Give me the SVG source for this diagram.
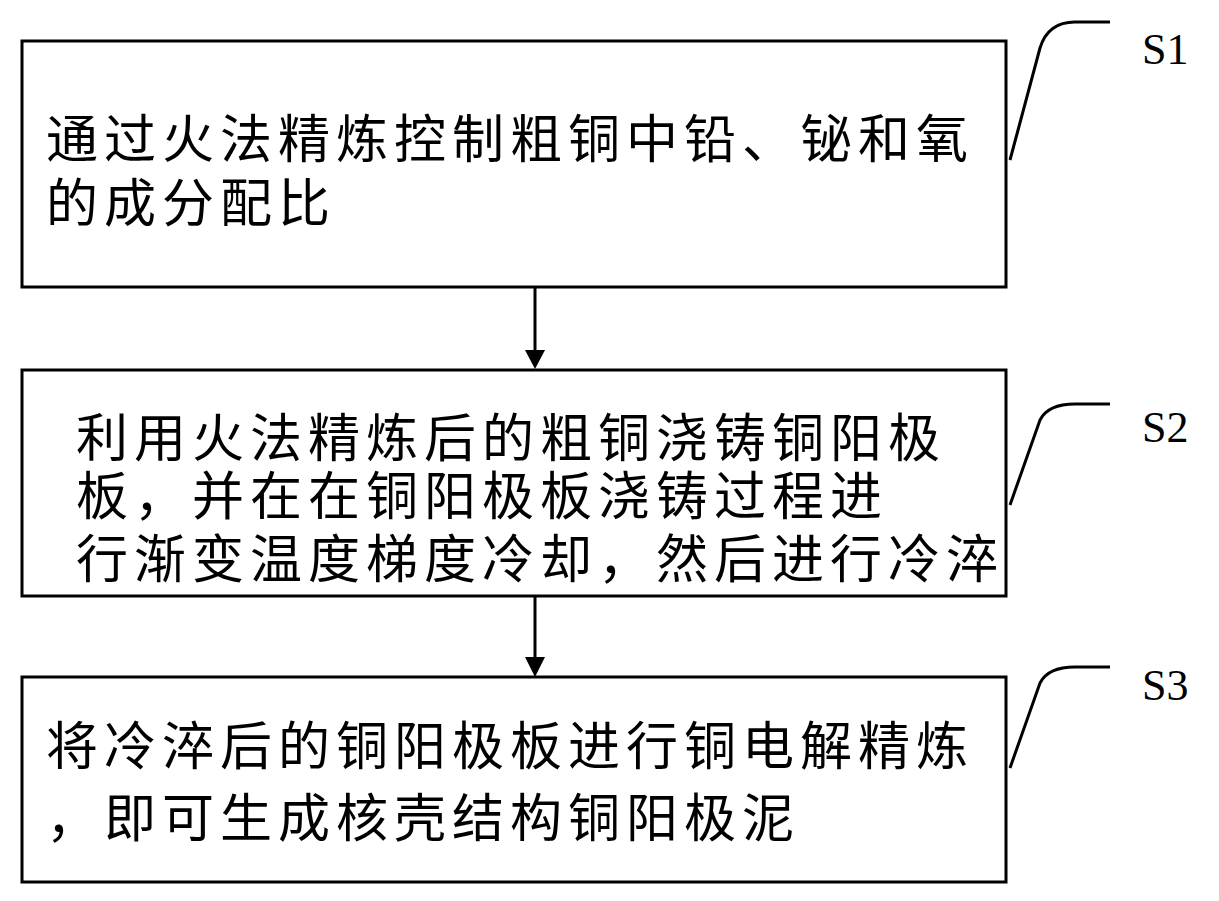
<svg xmlns="http://www.w3.org/2000/svg" width="1219" height="901" viewBox="0 0 1219 901">
<style>
.box{fill:#fff;stroke:#000;stroke-width:3}
.t{font-family:"Liberation Serif","Noto Sans CJK SC",serif;font-size:52px;letter-spacing:6px;fill:#000}
.lb{font-family:"Liberation Serif",serif;font-size:44px;fill:#000}
.c{fill:none;stroke:#000;stroke-width:3}
</style>
<rect width="1219" height="901" fill="#fff"/>
<g id="n1"><rect class="box" x="22" y="41" width="984" height="246"/>
<text class="t" x="46" y="158">通过火法精炼控制粗铜中铅、铋和氧</text>
<text class="t" x="46" y="222">的成分配比</text></g>
<g id="n2"><rect class="box" x="22" y="370" width="984" height="226"/>
<text class="t" x="76" y="457">利用火法精炼后的粗铜浇铸铜阳极</text>
<text class="t" x="76" y="515">板，并在在铜阳极板浇铸过程进</text>
<text class="t" x="76" y="578">行渐变温度梯度冷却，然后进行冷淬</text></g>
<g id="n3"><rect class="box" x="22" y="677" width="984" height="205"/>
<text class="t" x="46" y="765">将冷淬后的铜阳极板进行铜电解精炼</text>
<text class="t" x="46" y="837">，即可生成核壳结构铜阳极泥</text></g>
<g id="labels">
<text class="lb" x="1142" y="64">S1</text>
<text class="lb" x="1142" y="442">S2</text>
<text class="lb" x="1142" y="700">S3</text>
<path class="c" d="M1010,160 L1040,48 Q1048,22 1075,22 L1110,22"/>
<path class="c" d="M1010,505 L1040,420 Q1048,404 1075,404 L1110,404"/>
<path class="c" d="M1010,768 L1040,683 Q1048,667 1075,667 L1110,667"/>
</g>
<g id="connectors">
<line x1="535" y1="287" x2="535" y2="352" stroke="#000" stroke-width="3"/>
<path d="M525,350 L545,350 L535,369 z"/>
<line x1="535" y1="596" x2="535" y2="659" stroke="#000" stroke-width="3"/>
<path d="M525,657 L545,657 L535,677 z"/>
</g>
</svg>
